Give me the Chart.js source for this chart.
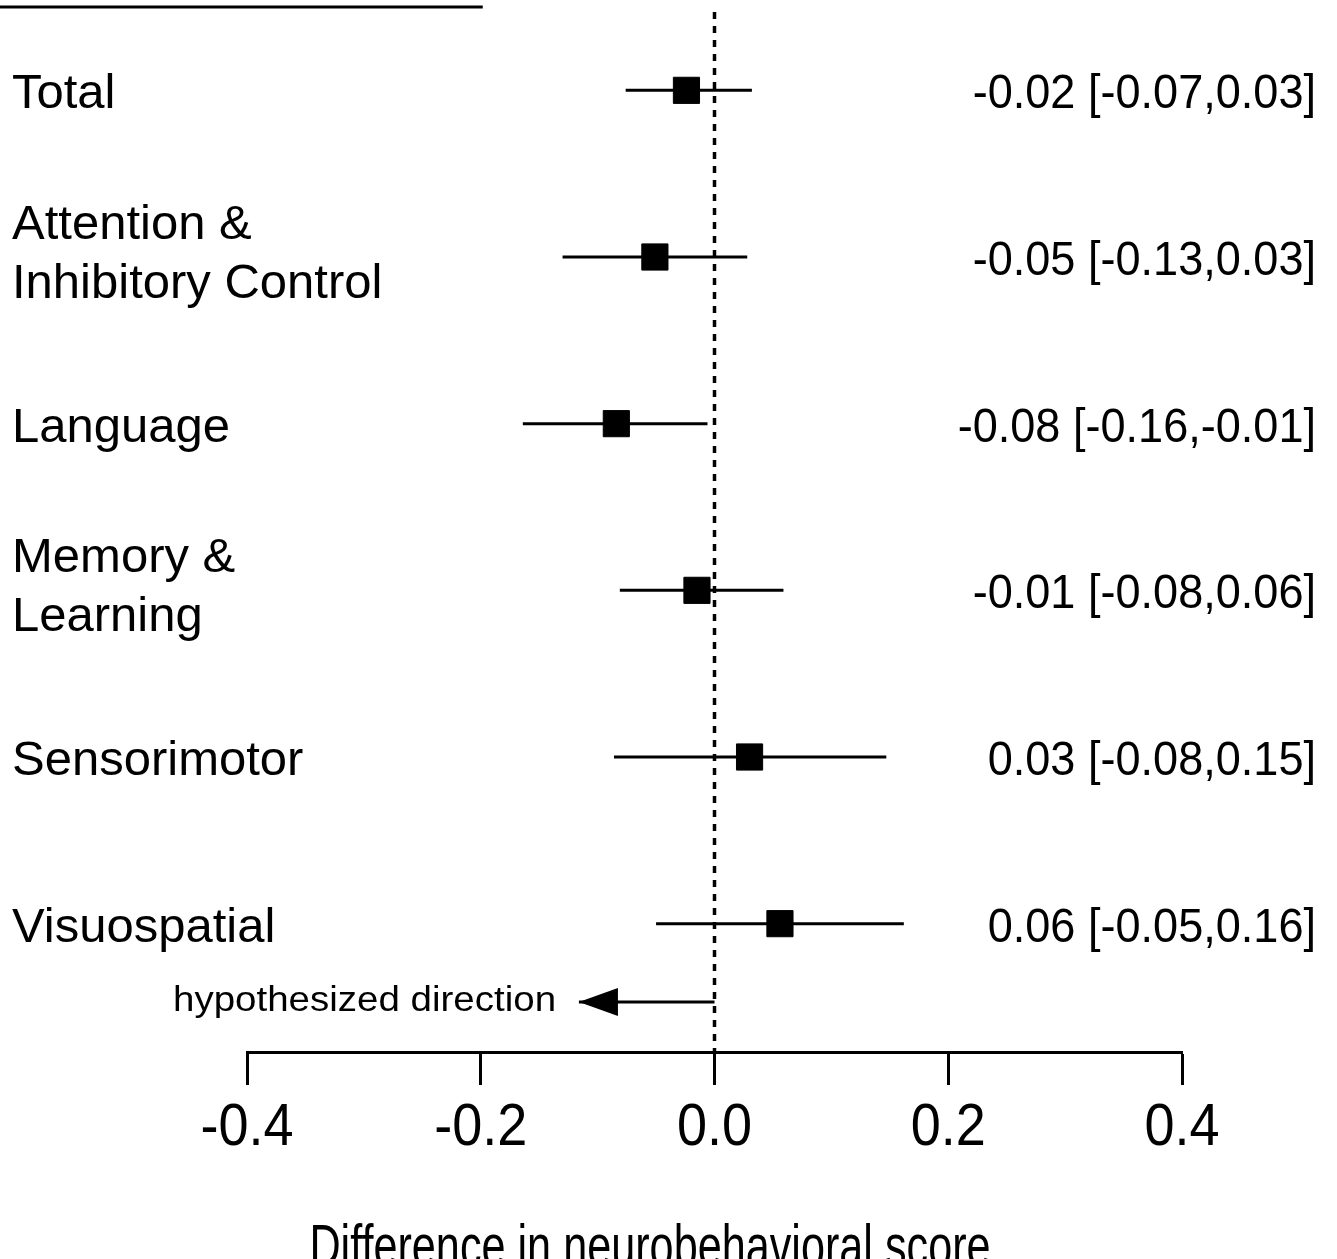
<!DOCTYPE html>
<html>
<head>
<meta charset="utf-8">
<script src="https://cdn.jsdelivr.net/npm/chart.js@4.4.1/dist/chart.umd.min.js"></script>
<style>
  html, body { margin: 0; padding: 0; background: #fff; }
  #wrap { width: 1337px; height: 1259px; position: relative; }
</style>
</head>
<body>
<div id="wrap"><canvas id="forest"></canvas></div>
<script>
// outcome rows, top to bottom
const outcomes = [['Total'], ['Attention &', 'Inhibitory Control'], ['Language'], ['Memory &', 'Learning'], ['Sensorimotor'], ['Visuospatial']];
const estimates = [-0.024, -0.051, -0.084, -0.015, 0.030, 0.056];
const ciLow = [-0.076, -0.130, -0.164, -0.081, -0.086, -0.050];
const ciHigh = [0.032, 0.028, -0.006, 0.059, 0.147, 0.162];
const ciLabels = ['-0.02 [-0.07,0.03]', '-0.05 [-0.13,0.03]', '-0.08 [-0.16,-0.01]', '-0.01 [-0.08,0.06]', '0.03 [-0.08,0.15]', '0.06 [-0.05,0.16]'];

const xTicks = [-0.4, -0.2, 0.0, 0.2, 0.4];
const xTickLabels = ['-0.4', '-0.2', '0.0', '0.2', '0.4'];
const axisTitle = 'Difference in neurobehavioral score';

// arrow under the rows
const arrowLabel = 'hypothesized direction';
const arrowRow = 5.47;
const arrowEnd = -0.116;

const FONT = '"Liberation Sans", Arial, sans-serif';

function drawText(ctx, str, x, y, size, sx, align) {
  ctx.save();
  ctx.font = size + 'px ' + FONT;
  ctx.fillStyle = '#000';
  ctx.textAlign = align;
  ctx.textBaseline = 'alphabetic';
  ctx.translate(x, y);
  ctx.scale(sx, 1);
  ctx.fillText(str, 0, 0);
  ctx.restore();
}

// text, arrow head and header rule
const forestDecor = {
  id: 'forestDecor',
  afterDraw(chart) {
    const ctx = chart.ctx;
    const xs = chart.scales.x, ys = chart.scales.y;
    const area = chart.chartArea;

    // header rule
    ctx.save();
    ctx.strokeStyle = '#000';
    ctx.lineWidth = 3;
    ctx.beginPath();
    ctx.moveTo(0, ys.getPixelForValue(-0.5));
    ctx.lineTo(xs.getPixelForValue(-0.2) + 2, ys.getPixelForValue(-0.5));
    ctx.stroke();
    ctx.restore();

    // arrow head
    const ay = ys.getPixelForValue(arrowRow);
    const tip = xs.getPixelForValue(arrowEnd);
    ctx.save();
    ctx.fillStyle = '#000';
    ctx.beginPath();
    ctx.moveTo(tip, ay);
    ctx.lineTo(tip + 39, ay - 14);
    ctx.lineTo(tip + 39, ay + 14);
    ctx.closePath();
    ctx.fill();
    ctx.restore();
    drawText(ctx, arrowLabel, 173, ay + 9, 35, 1.1, 'left');

    // row labels
    outcomes.forEach((lines, i) => {
      const ry = ys.getPixelForValue(i);
      const first = ry + 18 - (lines.length - 1) * 36;
      lines.forEach((t, k) => drawText(ctx, t, 12, first + k * 59, 49, 1.0, 'left'));
      drawText(ctx, ciLabels[i], 1316, ry + 18, 49, 0.92, 'right');
    });

    // tick labels and axis title
    xTicks.forEach((v, i) => {
      drawText(ctx, xTickLabels[i], xs.getPixelForValue(v), area.bottom + 93, 60, 0.9, 'center');
    });
    drawText(ctx, axisTitle, 650, area.bottom + 214, 60, 0.72, 'center');
  }
};

const ciSets = outcomes.map((_, i) => ({
  type: 'line',
  data: [{ x: ciLow[i], y: i }, { x: ciHigh[i], y: i }],
  borderColor: '#000',
  borderWidth: 3,
  pointRadius: 0,
  order: 2
}));

new Chart(document.getElementById('forest'), {
  type: 'scatter',
  data: {
    datasets: [
      {
        data: estimates.map((v, i) => ({ x: v, y: i })),
        pointStyle: 'rect',
        pointRadius: 18.5,
        backgroundColor: '#000',
        borderColor: '#000',
        borderWidth: 1,
        order: 0
      },
      ...ciSets,
      {
        type: 'line',
        data: [{ x: 0, y: -0.47 }, { x: 0, y: 5.77 }],
        borderColor: '#000',
        borderWidth: 3.5,
        borderDash: [7, 7],
        pointRadius: 0,
        order: 3
      },
      {
        type: 'line',
        data: [{ x: 0, y: arrowRow }, { x: arrowEnd, y: arrowRow }],
        borderColor: '#000',
        borderWidth: 3,
        pointRadius: 0,
        order: 3
      }
    ]
  },
  options: {
    responsive: true,
    maintainAspectRatio: false,
    animation: false,
    layout: { autoPadding: false, padding: { left: 247, right: 155, top: 7, bottom: 0 } },
    plugins: { legend: { display: false }, tooltip: { enabled: false } },
    scales: {
      x: {
        type: 'linear',
        position: 'bottom',
        min: -0.4,
        max: 0.4,
        afterBuildTicks: s => { s.ticks = xTicks.map(v => ({ value: v })); },
        afterFit: s => { s.height = 207; },
        border: { display: true, color: '#000', width: 3 },
        grid: { display: true, drawOnChartArea: false, drawTicks: true, tickLength: 33, tickWidth: 3, tickColor: '#000' },
        ticks: { display: false }
      },
      y: {
        type: 'linear',
        display: false,
        reverse: true,
        min: -0.5,
        max: 5.77
      }
    }
  },
  plugins: [forestDecor]
});
</script>
</body>
</html>
